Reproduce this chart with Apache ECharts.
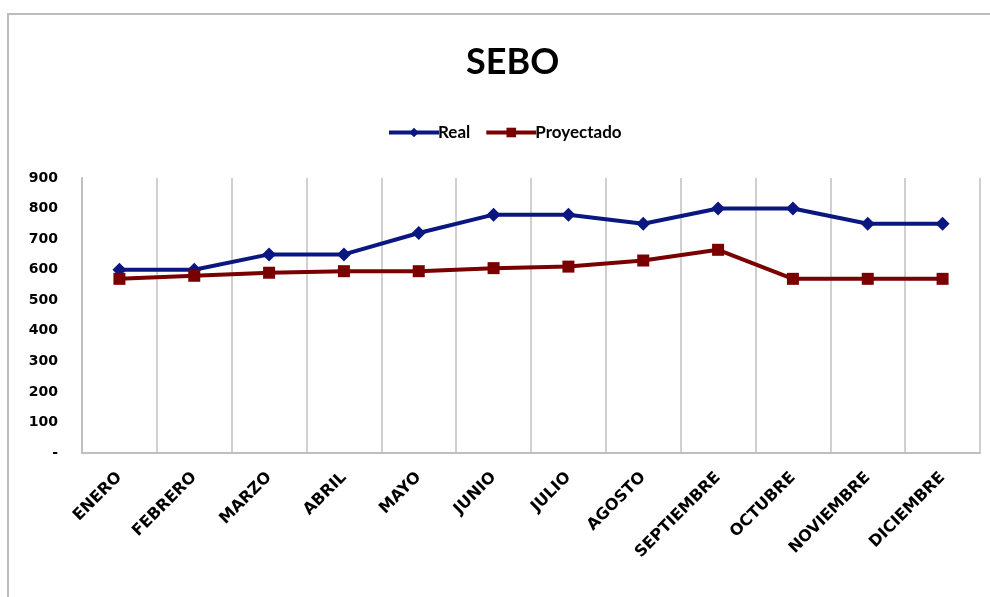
<!DOCTYPE html>
<html lang="es">
<head>
    <meta http-equiv="Content-Type" content="text/html; charset=utf-8"/>
    <title>SEBO</title>
    <script type="text/javascript" src="https://cdn.jsdelivr.net/npm/echarts@6/dist/echarts.min.js"></script>
</head>
<body style="height: 100%; margin: 0;">
<div id="container" style="width: 990px; height: 597px"></div>
<script type="text/javascript">
    // datos
    var meses = ['ENERO','FEBRERO','MARZO','ABRIL','MAYO','JUNIO','JULIO','AGOSTO','SEPTIEMBRE','OCTUBRE','NOVIEMBRE','DICIEMBRE'];
    var real = [600, 600, 650, 650, 720, 780, 780, 750, 800, 800, 750, 750];
    var proyectado = [570, 580, 590, 595, 595, 605, 610, 630, 665, 570, 570, 570];

    var fuente = 'Lato, "Open Sans", sans-serif';
    var ancha = '"DejaVu Sans", Verdana, sans-serif';
    var dom = document.getElementById("container");
    var myChart = echarts.init(dom);
    var option = {
        backgroundColor: '#ffffff',
        animation: false,
        textStyle: {fontFamily: fuente},
        title: {
            text: 'SEBO',
            left: 461,
            top: 39,
            textStyle: {fontSize: 36, fontWeight: 'bold', color: '#000', fontFamily: fuente}
        },
        legend: {
            left: 382,
            top: 119,
            itemWidth: 50,
            itemHeight: 12,
            itemGap: 14,
            lineStyle: {width: 4},
            textStyle: {fontSize: 17, fontWeight: 'bold', color: '#000', fontFamily: fuente, padding: [0, 0, 0, -6]},
            data: ['Real', 'Proyectado']
        },
        grid: {left: 82, right: 10, top: 178, bottom: 144, containLabel: false},
        xAxis: {
            type: 'category',
            data: meses,
            boundaryGap: true,
            axisLine: {lineStyle: {color: '#bfbfbf', width: 2}},
            axisTick: {show: false},
            splitLine: {show: true, lineStyle: {color: '#d0d0d0', width: 2}},
            axisLabel: {
                rotate: 45,
                interval: 0,
                margin: 22,
                fontSize: 16,
                fontWeight: 'bold',
                color: '#000',
                fontFamily: ancha
            }
        },
        yAxis: {
            type: 'value',
            min: 0,
            max: 900,
            interval: 100,
            axisLine: {show: true, lineStyle: {color: '#bfbfbf', width: 2}},
            axisTick: {show: false},
            splitLine: {show: false},
            axisLabel: {
                margin: 24,
                fontSize: 14,
                fontWeight: 'bold',
                color: '#000',
                fontFamily: ancha,
                formatter: function (v) { return v === 0 ? '-' : String(v); }
            }
        },
        graphic: [{
            type: 'rect',
            shape: {x: 8, y: 14, width: 1200, height: 800},
            style: {fill: 'none', stroke: '#bdbdbd', lineWidth: 2},
            silent: true
        }],
        series: [
            {
                name: 'Real',
                type: 'line',
                data: real,
                symbol: 'diamond',
                symbolSize: 14,
                color: '#0b1780',
                lineStyle: {width: 4, color: '#0b1780'},
                itemStyle: {color: '#0b1780'}
            },
            {
                name: 'Proyectado',
                type: 'line',
                data: proyectado,
                symbol: 'rect',
                symbolSize: 12,
                color: '#7a0000',
                lineStyle: {width: 4, color: '#7a0000'},
                itemStyle: {color: '#7a0000'}
            }
        ]
    };
    if (option && typeof option === "object") {
        myChart.setOption(option, true);
    }
</script>
</body>
</html>
